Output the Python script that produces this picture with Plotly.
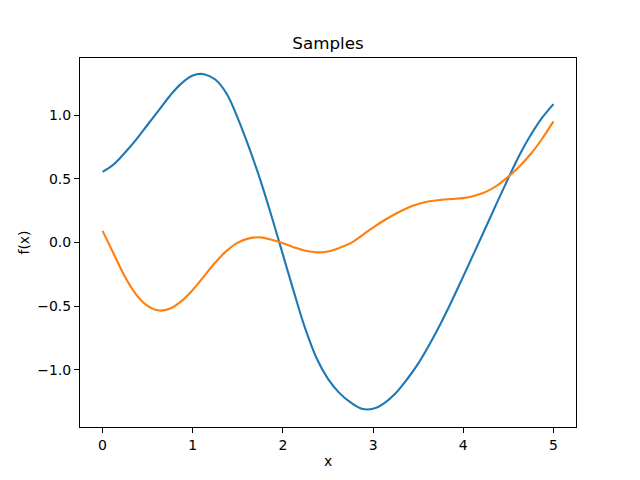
import plotly.graph_objects as go

x_grid = [0.0, 0.125, 0.25, 0.375, 0.5, 0.625, 0.75, 0.875, 1.0, 1.125, 1.25, 1.375, 1.5, 1.625, 1.75, 1.875,
          2.0, 2.125, 2.25, 2.375, 2.5, 2.625, 2.75, 2.875, 3.0, 3.125, 3.25, 3.375, 3.5, 3.625, 3.75, 3.875,
          4.0, 4.125, 4.25, 4.375, 4.5, 4.625, 4.75, 4.875, 5.0]
y_blue = [0.555, 0.615, 0.707, 0.81, 0.925, 1.04, 1.155, 1.25, 1.312, 1.322, 1.28, 1.17, 0.975, 0.745, 0.49, 0.205,
          -0.095, -0.395, -0.68, -0.91, -1.07, -1.18, -1.255, -1.305, -1.305, -1.26, -1.183, -1.075, -0.95, -0.8, -0.635, -0.455,
          -0.265, -0.073, 0.12, 0.315, 0.506, 0.69, 0.846, 0.98, 1.087]
y_orange = [0.092, -0.09, -0.27, -0.41, -0.497, -0.534, -0.518, -0.46, -0.372, -0.265, -0.157, -0.065, 0.0, 0.033, 0.041, 0.022,
            -0.005, -0.038, -0.065, -0.077, -0.07, -0.043, -0.005, 0.055, 0.118, 0.175, 0.226, 0.27, 0.303, 0.324, 0.335, 0.342,
            0.349, 0.368, 0.398, 0.448, 0.518, 0.6, 0.697, 0.815, 0.951]

x_ticks = [0, 1, 2, 3, 4, 5]
y_ticks = [-1.0, -0.5, 0.0, 0.5, 1.0]

W, H = 640, 480
L, R, T, B = 80, 64, 58, 53
font = "DejaVu Sans"

fig = go.Figure()
fig.add_trace(go.Scatter(x=x_grid, y=y_blue, mode="lines",
                         line=dict(color="#1f77b4", width=2.1, shape="spline", smoothing=1.0)))
fig.add_trace(go.Scatter(x=x_grid, y=y_orange, mode="lines",
                         line=dict(color="#ff7f0e", width=2.1, shape="spline", smoothing=1.0)))

axis_common = dict(showline=True, linecolor="black", linewidth=1, mirror=True,
                   ticks="outside", ticklen=5, tickwidth=1, tickcolor="black",
                   showgrid=False, zeroline=False,
                   tickfont=dict(family=font, size=14, color="black"))

fig.update_layout(
    width=W, height=H,
    margin=dict(l=L, r=R, t=T, b=B, pad=0),
    paper_bgcolor="white", plot_bgcolor="white",
    showlegend=False,
    title=dict(text="Samples", x=(L + (W - R - L) / 2) / W, xanchor="center",
               y=1 - 43 / H, yanchor="middle", yref="container",
               font=dict(family=font, size=16.7, color="black")),
    xaxis=dict(range=[-0.25, 5.25], tickvals=x_ticks, ticktext=[str(t) for t in x_ticks], **axis_common),
    yaxis=dict(range=[-1.448, 1.449], tickvals=y_ticks, tickformat=".1f", **axis_common),
    annotations=[
        dict(text="x", xref="paper", yref="paper", x=0.5, y=-(461 - (H - B)) / (H - T - B),
             xanchor="center", yanchor="middle", showarrow=False,
             font=dict(family=font, size=13.9, color="black")),
        dict(text="f(x)", xref="paper", yref="paper", x=-(L - 23) / (W - L - R), y=0.5,
             xanchor="center", yanchor="middle", textangle=-90, showarrow=False,
             font=dict(family=font, size=13.9, color="black")),
    ],
)

fig.write_html("out.html")
